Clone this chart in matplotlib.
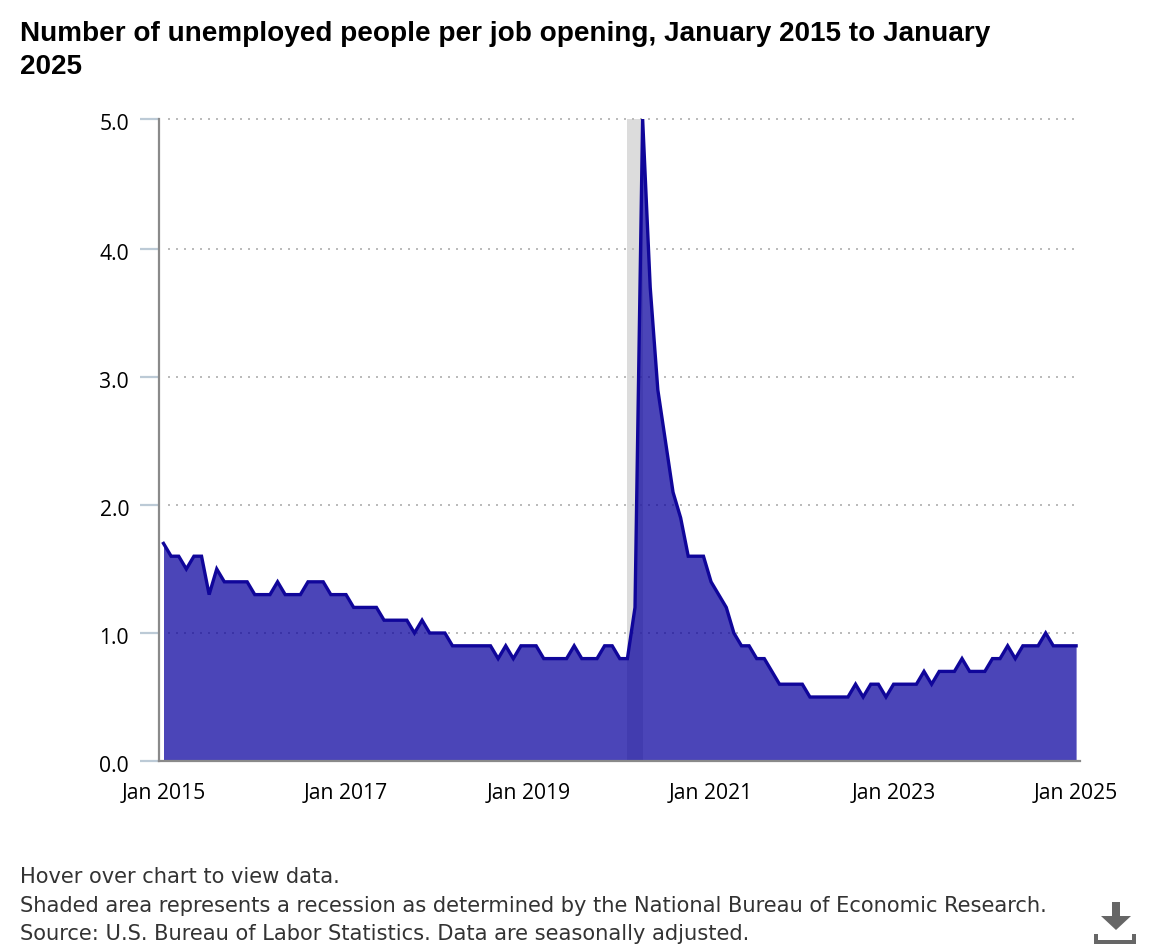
import numpy as np
import matplotlib
matplotlib.use('Agg')
import matplotlib.pyplot as plt
from matplotlib.patches import Polygon, Rectangle
from matplotlib.transforms import ScaledTranslation

# one value per month, Jan 2015 to Jan 2025
ratio_2015 = [1.7, 1.6, 1.6, 1.5, 1.6, 1.6, 1.3, 1.5, 1.4, 1.4, 1.4, 1.4]
ratio_2016 = [1.3, 1.3, 1.3, 1.4, 1.3, 1.3, 1.3, 1.4, 1.4, 1.4, 1.3, 1.3]
ratio_2017 = [1.3, 1.2, 1.2, 1.2, 1.2, 1.1, 1.1, 1.1, 1.1, 1.0, 1.1, 1.0]
ratio_2018 = [1.0, 1.0, 0.9, 0.9, 0.9, 0.9, 0.9, 0.9, 0.8, 0.9, 0.8, 0.9]
ratio_2019 = [0.9, 0.9, 0.8, 0.8, 0.8, 0.8, 0.9, 0.8, 0.8, 0.8, 0.9, 0.9]
ratio_2020 = [0.8, 0.8, 1.2, 5.02, 3.7, 2.9, 2.5, 2.1, 1.9, 1.6, 1.6, 1.6]
ratio_2021 = [1.4, 1.3, 1.2, 1.0, 0.9, 0.9, 0.8, 0.8, 0.7, 0.6, 0.6, 0.6]
ratio_2022 = [0.6, 0.5, 0.5, 0.5, 0.5, 0.5, 0.5, 0.6, 0.5, 0.6, 0.6, 0.5]
ratio_2023 = [0.6, 0.6, 0.6, 0.6, 0.7, 0.6, 0.7, 0.7, 0.7, 0.8, 0.7, 0.7]
ratio_2024 = [0.7, 0.8, 0.8, 0.9, 0.8, 0.9, 0.9, 0.9, 1.0, 0.9, 0.9, 0.9]
ratio_2025 = [0.9]

# the top tick sits a touch above a true 5.0 in the reference
yticks = [0.0, 1.0, 2.0, 3.0, 4.0, 5.016]
ytick_labels = ['0.0', '1.0', '2.0', '3.0', '4.0', '5.0']
xtick_months = [0, 24, 48, 72, 96, 120]
xtick_labels = ['Jan 2015', 'Jan 2017', 'Jan 2019', 'Jan 2021', 'Jan 2023', 'Jan 2025']
recession = (61, 63)  # Feb 2020 to Apr 2020

title = 'Number of unemployed people per job opening, January 2015 to January\n2025'
notes = ['Hover over chart to view data.',
         'Shaded area represents a recession as determined by the National Bureau of Economic Research.',
         'Source: U.S. Bureau of Labor Statistics. Data are seasonally adjusted.']

ratio = np.array(ratio_2015 + ratio_2016 + ratio_2017 + ratio_2018 + ratio_2019 + ratio_2020
                 + ratio_2021 + ratio_2022 + ratio_2023 + ratio_2024 + ratio_2025)
months = np.arange(len(ratio))

W, H = 1160, 950
fig = plt.figure(figsize=(W / 100, H / 100), dpi=100, facecolor='white')

# axes box in pixels: left 159, right 1080, top 119, bottom 761
ax = fig.add_axes([159 / W, 1 - 761 / H, (1080 - 159) / W, (761 - 119) / H])
ax.set_xlim((159 - 163.5) / 7.605, (1080 - 163.5) / 7.605)
ax.set_ylim(0, 5.016)

ax.hlines(yticks[1:], 0.6, 120, color='#bbbbbb', lw=1.44, linestyle=(0, (1, 3)), zorder=1, clip_on=False)
ax.axvspan(recession[0], recession[1], color='#dcdcdc', lw=0, zorder=0)
ax.fill_between(months, ratio, 0, color='#0f06a0', alpha=0.75, lw=0, zorder=2)
ax.plot(months, ratio, color='#10069a', lw=2.4, solid_joinstyle='miter', zorder=3)

for s in ['top', 'right']:
    ax.spines[s].set_visible(False)
for s in ['left', 'bottom']:
    ax.spines[s].set_color('#8a8a8a')
    ax.spines[s].set_linewidth(1.6)

ax.set_yticks(yticks)
ax.set_yticklabels(ytick_labels, fontsize=15.2, family='Open Sans', color='black')
ax.set_xticks(xtick_months)
ax.set_xticklabels(xtick_labels, fontsize=15.2, family='Open Sans', color='black')
ax.tick_params(axis='y', length=14, width=1.6, color='#bccad6', pad=7.5)
ax.tick_params(axis='x', length=0, pad=16)
for t in ax.get_yticklabels():
    t.set_transform(t.get_transform() + ScaledTranslation(0, -2 / 72, fig.dpi_scale_trans))

# overlay in pixel coordinates for title, notes and the download icon
over = fig.add_axes([0, 0, 1, 1], facecolor='none')
over.set_xlim(0, W)
over.set_ylim(H, 0)
over.axis('off')

over.text(20, 21, title, fontsize=20.1, family='Liberation Sans', fontweight='bold',
          va='top', ha='left', color='black', linespacing=1.33)
for y, line in zip([883, 911.5, 940], notes):
    over.text(20, y, line, fontsize=15.1, family='DejaVu Sans', va='baseline', ha='left', color='#333333')

icon = '#666666'
over.add_patch(Polygon([(1112, 902), (1120, 902), (1120, 916), (1131, 916), (1116, 930),
                        (1101, 916), (1112, 916)], closed=True, fc=icon, ec='none'))
over.add_patch(Rectangle((1094, 940), 42, 4, fc=icon, ec='none'))
over.add_patch(Rectangle((1094, 934), 4, 8, fc=icon, ec='none'))
over.add_patch(Rectangle((1132, 934), 4, 8, fc=icon, ec='none'))

fig.savefig('out.png', dpi=100)
